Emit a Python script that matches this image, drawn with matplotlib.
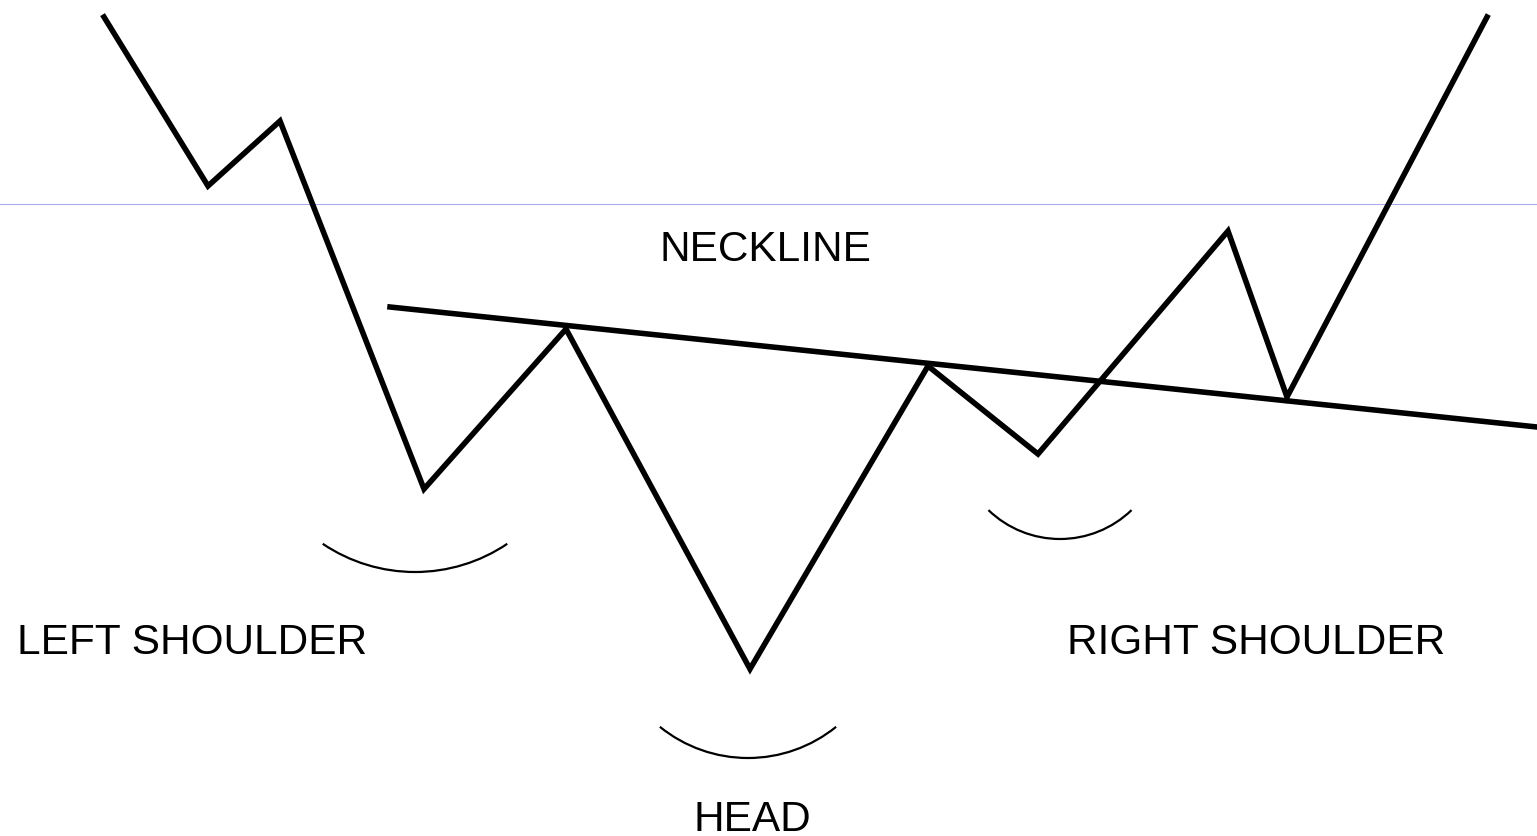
import numpy as np
import matplotlib
matplotlib.use("Agg")
import matplotlib.pyplot as plt
from matplotlib.patches import Arc

# Inverse head & shoulders sketch (pixel-like coordinates, y grows downward)
price_x = [104, 208, 280, 424, 566, 750, 928, 1038, 1228, 1287, 1487]
price_y = [18, 187, 122, 490, 330, 670, 367, 455, 232, 398, 18]

neck_x = [390, 1537]
neck_y = [308, 428]

guide_y = 204.5

# arcs under the shoulders and head: centre, radius, half span (deg)
arc_cx = [415, 748, 1060]
arc_cy = [408, 619, 437]
arc_r = [165, 140, 103]
arc_half = [34, 39, 44]

labels = ["NECKLINE", "LEFT SHOULDER", "HEAD", "RIGHT SHOULDER"]
label_x = [765, 17, 752, 1256]
label_y = [261, 654, 831, 654]
label_ha = ["center", "left", "center", "center"]

W, H = 1537, 837
fig = plt.figure(figsize=(W / 100, H / 100), dpi=100)
ax = fig.add_axes([0, 0, 1, 1])
ax.set_xlim(0, W)
ax.set_ylim(H, 0)
ax.axis("off")
fig.patch.set_facecolor("white")

ax.axhline(guide_y, color="#a8a8f0", lw=0.75)
ax.plot(price_x, price_y, color="black", lw=4, solid_joinstyle="miter")
ax.plot(neck_x, neck_y, color="black", lw=4)

for cx, cy, r, h in zip(arc_cx, arc_cy, arc_r, arc_half):
    ax.add_patch(Arc((cx, cy), 2 * r, 2 * r, theta1=90 - h, theta2=90 + h,
                     color="black", lw=1.6))

for t, x, y, ha in zip(labels, label_x, label_y, label_ha):
    ax.text(x, y, t, ha=ha, va="baseline", fontsize=30.5,
            family="Liberation Sans", color="black")

fig.savefig("out.png", dpi=100)
